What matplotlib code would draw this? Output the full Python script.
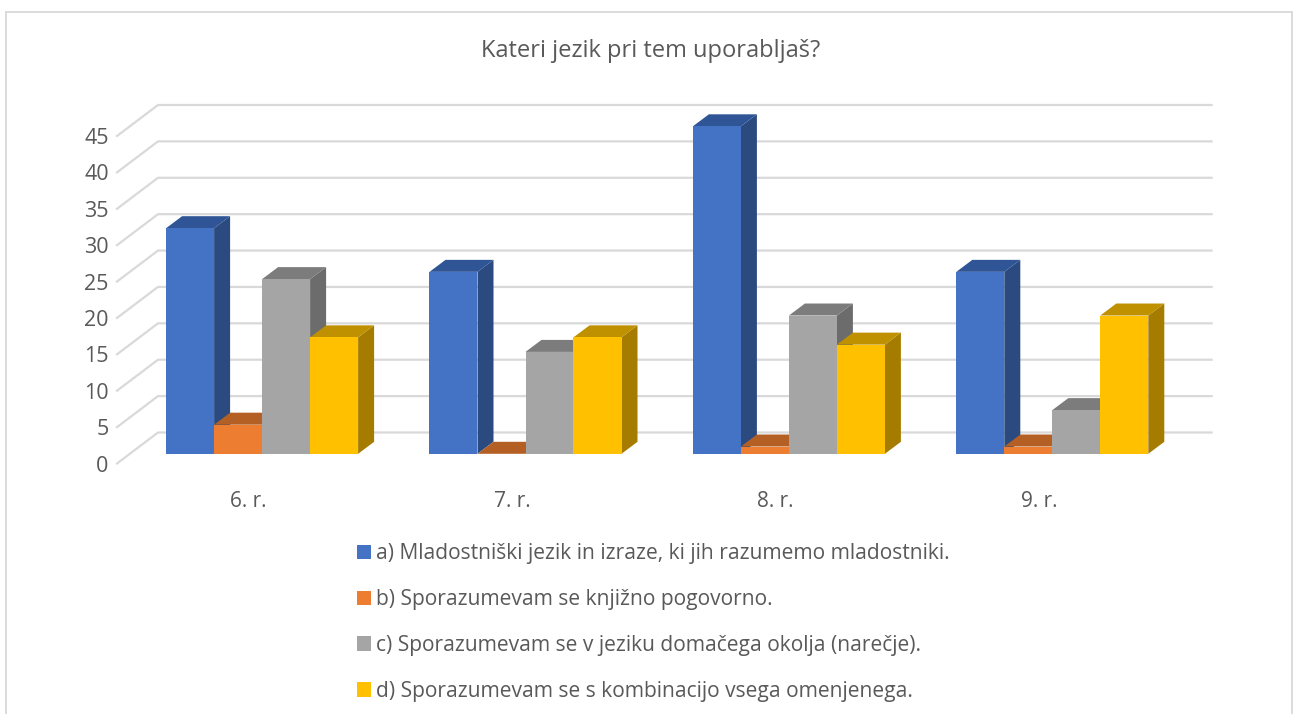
import matplotlib
matplotlib.use("Agg")
import matplotlib.pyplot as plt
from matplotlib.lines import Line2D
from matplotlib.patches import Patch, Polygon

categories = ["6. r.", "7. r.", "8. r.", "9. r."]
series_names = [
    "a) Mladostniški jezik in izraze, ki jih razumemo mladostniki.",
    "b) Sporazumevam se knjižno pogovorno.",
    "c) Sporazumevam se v jeziku domačega okolja (narečje).",
    "d) Sporazumevam se s kombinacijo vsega omenjenega.",
]
series_a = [31, 25, 45, 25]
series_b = [4, 0, 1, 1]
series_c = [24, 14, 19, 6]
series_d = [16, 16, 15, 19]
y_ticks = [0, 5, 10, 15, 20, 25, 30, 35, 40, 45]
title = "Kateri jezik pri tem uporabljaš?"

front_colors = ["#4472C4", "#ED7D31", "#A5A5A5", "#FFC000"]
top_colors = ["#2F5597", "#B45F24", "#7C7C7C", "#BF9000"]
side_colors = ["#2A4A80", "#9E5320", "#6C6C6C", "#A67C00"]
TEXT = "#595959"
GRID = "#D9D9D9"

W, H = 1298, 714
fig = plt.figure(figsize=(W / 100, H / 100), dpi=100, facecolor="white")
plt.rcParams["font.family"] = ["Open Sans", "DejaVu Sans"]

# plot plane in pixels
L, R, B, T = 117, 1170.6, 463.5, 136
ax = fig.add_axes([L / W, 1 - B / H, (R - L) / W, (B - T) / H])
ax.set_xlim(0, len(categories))
ax.set_ylim(0, 45)
ax.patch.set_visible(False)
for s in ax.spines.values():
    s.set_visible(False)

px_x = len(categories) / (R - L)   # data units per pixel
px_y = 45 / (B - T)

wall_dx, wall_dy = 41 * px_x, 31 * px_y
front_dx, front_dy = 13.4 * px_x, 9.7 * px_y
depth_dx, depth_dy = 16 * px_x, 12 * px_y

# walls
for v in y_ticks:
    ax.plot([0, wall_dx, len(categories) + wall_dx], [v, v + wall_dy, v + wall_dy],
            color=GRID, lw=1.6, clip_on=False, zorder=1, solid_joinstyle="miter")

# bars
series = [series_a, series_b, series_c, series_d]
gap = 1.4875
bw = 1 / (len(series) + gap)
for ci in range(len(categories)):
    for si, vals in enumerate(series):
        v = vals[ci]
        x0 = ci + gap * bw / 2 + si * bw + front_dx
        x1 = x0 + bw
        y0 = front_dy
        y1 = v + front_dy
        z = 3 + ci * 10 + si
        side = [(x1, y0), (x1 + depth_dx, y0 + depth_dy), (x1 + depth_dx, y1 + depth_dy), (x1, y1)]
        top = [(x0, y1), (x0 + depth_dx, y1 + depth_dy), (x1 + depth_dx, y1 + depth_dy), (x1, y1)]
        front = [(x0, y0), (x1, y0), (x1, y1), (x0, y1)]
        ax.add_patch(Polygon(side, fc=side_colors[si], ec="none", clip_on=False, zorder=z))
        ax.add_patch(Polygon(top, fc=top_colors[si], ec="none", clip_on=False, zorder=z))
        ax.add_patch(Polygon(front, fc=front_colors[si], ec="none", clip_on=False, zorder=z + 0.5))

# axes text
ax.set_yticks(y_ticks)
ax.set_yticklabels([str(v) for v in y_ticks], fontsize=15.5, color=TEXT)
ax.set_xticks([i + 0.5 for i in range(len(categories))])
ax.set_xticklabels(categories, fontsize=15, color=TEXT)
ax.tick_params(axis="y", length=0, pad=6, labelsize=15.5)
ax.tick_params(axis="x", length=0, pad=19.5)

fig.text(650.5 / W, 1 - 51 / H, title, ha="center", va="center", fontsize=17, color=TEXT)

# legend
handles = [Patch(fc=c, ec="none") for c in front_colors]
fs = 15.1
fig.legend(handles, series_names, loc="upper left",
           bbox_to_anchor=(357 / W, 1 - 543 / H), bbox_transform=fig.transFigure,
           frameon=False, fontsize=fs, labelcolor=TEXT,
           borderpad=0, borderaxespad=0, handlelength=10 / fs, handleheight=10 / fs,
           handletextpad=0.25, labelspacing=1.19)

# chart frame
for xs, ys in [((6, 6), (714, 12)), ((6, 1291.5), (12, 12)), ((1291.5, 1291.5), (12, 714))]:
    fig.add_artist(Line2D([x / W for x in xs], [1 - y / H for y in ys], color=GRID, lw=1.3,
                          transform=fig.transFigure))

fig.savefig("out.png", dpi=100, facecolor="white")
